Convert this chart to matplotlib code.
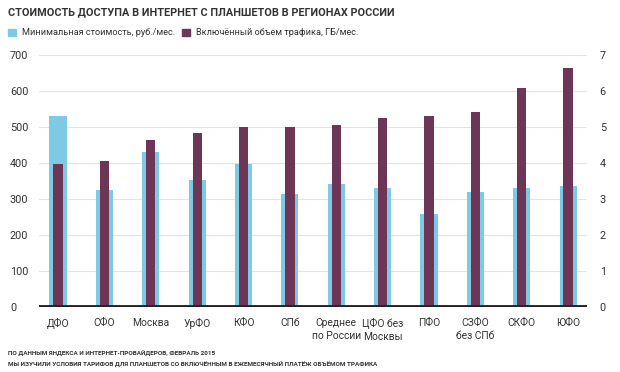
import numpy as np
import matplotlib.pyplot as plt
from matplotlib.patches import Rectangle

plt.rcParams['font.family'] = ['Roboto', 'DejaVu Sans']

# Data
regions = ["ДФО", "СФО", "Москва", "УрФО", "КФО", "СПб", "Среднее\nпо России",
           "ЦФО без\nМосквы", "ПФО", "СЗФО\nбез СПб", "СКФО", "ЮФО"]
cost = [530, 325, 429, 352, 398, 312, 341, 331, 258, 319, 331, 336]
traffic = [3.96, 4.06, 4.64, 4.82, 5.0, 5.0, 5.05, 5.24, 5.31, 5.4, 6.07, 6.64]

blue = "#7ecae5"
purple = "#6d3656"
text_col = "#333333"

fig = plt.figure(figsize=(6.2, 3.72), dpi=100)
ax = fig.add_axes([0.063, 0.1755, 0.884, 0.677])
ax2 = ax.twinx()

x = np.arange(len(regions))
ax.bar(x, cost, width=0.37, color=blue, zorder=2)
ax2.bar(x, traffic, width=0.2, color=purple, zorder=3)

ax.set_ylim(0, 700)
ax2.set_ylim(0, 7)
ax.set_xlim(-0.41, len(regions) - 0.59)
ax.set_yticks(range(0, 701, 100))
ax2.set_yticks(range(0, 8))
ax.grid(axis="y", color="#e3e3e3", lw=0.8, zorder=0)
ax.set_axisbelow(True)

for a in (ax, ax2):
    for s in a.spines.values():
        s.set_visible(False)
    a.tick_params(length=0, labelsize=7.8, colors=text_col)
for lbl in ax.get_yticklabels():
    lbl.set_horizontalalignment("left")
ax.tick_params(axis="y", pad=21)
ax2.tick_params(axis="y", pad=9)
ax2.axhline(0, color="#222222", lw=3.5, zorder=5)

ax.set_xticks(x)
ax.set_xticklabels(regions, fontsize=7.4, color=text_col, linespacing=1.35, va="top")
ax.tick_params(axis="x", pad=8)

fig.text(0.013, 0.968, "СТОИМОСТЬ ДОСТУПА В ИНТЕРНЕТ С ПЛАНШЕТОВ В РЕГИОНАХ РОССИИ",
         fontsize=7.8, fontweight="bold", color=text_col, va="center")

# legend
fig.patches.append(Rectangle((0.013, 0.903), 0.012, 0.02, transform=fig.transFigure,
                             color=blue, figure=fig))
fig.text(0.035, 0.913, "Минимальная стоимость, руб./мес.", fontsize=6.6,
         color=text_col, va="center")
fig.patches.append(Rectangle((0.294, 0.903), 0.012, 0.02, transform=fig.transFigure,
                             color=purple, figure=fig))
fig.text(0.316, 0.913, "Включённый объем трафика, ГБ/мес.", fontsize=6.6,
         color=text_col, va="center")

fig.text(0.013, 0.052, "ПО ДАННЫМ ЯНДЕКСА И ИНТЕРНЕТ-ПРОВАЙДЕРОВ, ФЕВРАЛЬ 2015",
         fontsize=4.6, fontweight="bold", color=text_col, va="center")
fig.text(0.013, 0.022, "МЫ ИЗУЧИЛИ УСЛОВИЯ ТАРИФОВ ДЛЯ ПЛАНШЕТОВ СО ВКЛЮЧЁННЫМ В ЕЖЕМЕСЯЧНЫЙ ПЛАТЁЖ ОБЪЁМОМ ТРАФИКА",
         fontsize=4.6, fontweight="bold", color=text_col, va="center")

fig.savefig("out.png", dpi=100)
